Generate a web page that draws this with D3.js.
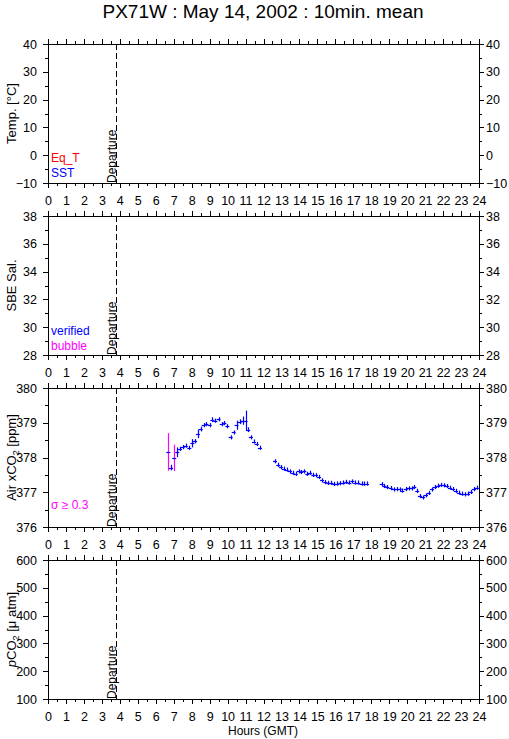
<!DOCTYPE html>
<html>
<head>
<meta charset="utf-8">
<title>PX71W : May 14, 2002 : 10min. mean</title>
<script src="https://d3js.org/d3.v7.min.js"></script>
<style>
  body { margin: 0; background: white; }
  svg text { font-family: "Liberation Sans", Arial, sans-serif; }
</style>
</head>
<body>
<svg id="chart"></svg>
<script>
var width = 509;
var height = 739;

// 10 minute means of air xCO2 (hours GMT, ppm, std dev)
var hours = [6.70, 6.85, 7.03, 7.20, 7.35, 7.50, 7.67, 7.87, 8.04, 8.19, 8.35, 8.50, 8.67, 8.82, 9.00, 9.15,
  9.32, 9.50, 9.67, 9.82, 9.99, 10.17, 10.34, 10.50, 10.67, 10.84, 11.00, 11.15, 11.30, 11.47, 11.62, 11.80,
  12.64, 12.82, 12.97, 13.14, 13.29, 13.47, 13.62, 13.79, 13.96, 14.10, 14.27, 14.44, 14.59, 14.77, 14.92,
  15.09, 15.26, 15.44, 15.61, 15.78, 15.94, 16.11, 16.28, 16.44, 16.61, 16.78, 16.95, 17.11, 17.28, 17.46,
  17.61, 17.76,
  18.58, 18.73, 18.89, 19.08, 19.25, 19.41, 19.58, 19.73, 19.92, 20.08, 20.25, 20.40, 20.56, 20.71, 20.88,
  21.05, 21.21, 21.38, 21.55, 21.72, 21.88, 22.05, 22.22, 22.38, 22.55, 22.72, 22.88, 23.05, 23.22, 23.39,
  23.55, 23.72, 23.88];
var xco2 = [378.16, 377.71, 377.99, 378.15, 378.25, 378.30, 378.34, 378.28, 378.41, 378.47, 378.68, 378.82,
  378.93, 378.96, 378.93, 379.09, 379.06, 379.10, 378.96, 378.99, 378.90, 378.58, 378.72, 378.93, 379.03,
  379.06, 379.06, 378.80, 378.58, 378.46, 378.39, 378.28,
  377.89, 377.79, 377.72, 377.68, 377.65, 377.60, 377.56, 377.53, 377.60, 377.58, 377.60, 377.53, 377.56,
  377.50, 377.49, 377.44, 377.34, 377.29, 377.27, 377.27, 377.24, 377.25, 377.26, 377.28, 377.30, 377.28,
  377.31, 377.28, 377.28, 377.25, 377.25, 377.25,
  377.23, 377.18, 377.15, 377.12, 377.08, 377.09, 377.08, 377.05, 377.09, 377.11, 377.11, 377.15, 377.04,
  376.89, 376.85, 376.91, 376.98, 377.08, 377.15, 377.19, 377.21, 377.20, 377.18, 377.13, 377.09, 377.04,
  376.99, 376.96, 376.94, 376.96, 377.01, 377.09, 377.13];
var xco2Sd = [0.54, 0.08, 0.38, 0.14, 0.06, 0.06, 0.06, 0.06, 0.12, 0.06, 0.12, 0.07, 0.06, 0.06, 0.06, 0.07,
  0.06, 0.06, 0.06, 0.06, 0.06, 0.06, 0.06, 0.13, 0.07, 0.12, 0.29, 0.07, 0.06, 0.06, 0.06, 0.06,
  0.06, 0.06, 0.06, 0.06, 0.06, 0.06, 0.06, 0.06, 0.06, 0.06, 0.06, 0.06, 0.06, 0.06, 0.06,
  0.06, 0.06, 0.06, 0.06, 0.06, 0.06, 0.06, 0.06, 0.06, 0.06, 0.06, 0.06, 0.06, 0.06, 0.06,
  0.06, 0.06,
  0.06, 0.06, 0.06, 0.06, 0.06, 0.06, 0.06, 0.06, 0.06, 0.06, 0.06, 0.06, 0.06, 0.06, 0.06,
  0.06, 0.06, 0.06, 0.06, 0.06, 0.06, 0.06, 0.06, 0.06, 0.06, 0.06, 0.06, 0.06, 0.06, 0.06,
  0.06, 0.06, 0.06];

var departureHour = 3.82;
var hourTicks = d3.range(0, 25, 1);
var halfHourTicks = d3.range(0.5, 24, 1);

// panel y ranges and ticks
var panelDomains = [[-10, 40], [28, 38], [376, 380], [100, 600]];
var panelMajor = [d3.range(-10, 41, 10), d3.range(28, 39, 2), d3.range(376, 381, 1), d3.range(100, 601, 100)];
var panelMinor = [d3.range(-5, 40, 10), d3.range(29, 38, 2), d3.range(376.5, 380, 1), d3.range(150, 600, 100)];
var panelTops = [44, 216, 388, 560];
var panelHeight = 139;

var left = 48, right = 479;

var svg = d3.select("#chart").attr("width", width).attr("height", height);

var x = d3.scaleLinear().domain([0, 24]).range([left, right]);

// title
svg.append("text")
  .attr("x", 263).attr("y", 18)
  .attr("text-anchor", "middle")
  .attr("font-size", 19)
  .text("PX71W : May 14, 2002 : 10min. mean");

var yScales = [];

panelTops.forEach(function(top, i) {
  var y = d3.scaleLinear().domain(panelDomains[i]).range([top + panelHeight, top]);
  yScales.push(y);
  var bottom = top + panelHeight;

  var g = svg.append("g");

  // x axes (bottom with labels, top without)
  g.append("g").attr("transform", "translate(0," + bottom + ")")
    .call(d3.axisBottom(x).tickValues(hourTicks).tickSize(5).tickPadding(8).tickFormat(d3.format("d")));
  g.append("g").attr("transform", "translate(0," + bottom + ")")
    .call(d3.axisBottom(x).tickValues(halfHourTicks).tickSize(3).tickFormat(""));
  g.append("g").attr("transform", "translate(0," + top + ")")
    .call(d3.axisTop(x).tickValues(hourTicks).tickSize(5).tickFormat(""));
  g.append("g").attr("transform", "translate(0," + top + ")")
    .call(d3.axisTop(x).tickValues(halfHourTicks).tickSize(3).tickFormat(""));

  // y axes on both sides
  g.append("g").attr("transform", "translate(" + left + ",0)")
    .call(d3.axisLeft(y).tickValues(panelMajor[i]).tickSize(5).tickPadding(6).tickFormat(d3.format("d")));
  g.append("g").attr("transform", "translate(" + left + ",0)")
    .call(d3.axisLeft(y).tickValues(panelMinor[i]).tickSize(3).tickFormat(""));
  g.append("g").attr("transform", "translate(" + right + ",0)")
    .call(d3.axisRight(y).tickValues(panelMajor[i]).tickSize(5).tickPadding(2).tickFormat(d3.format("d")));
  g.append("g").attr("transform", "translate(" + right + ",0)")
    .call(d3.axisRight(y).tickValues(panelMinor[i]).tickSize(3).tickFormat(""));

  g.selectAll(".domain").remove();
  g.selectAll(".tick text").attr("font-size", 12.5).attr("font-family", "Liberation Sans, Arial, sans-serif");
  g.selectAll(".tick line").attr("shape-rendering", "crispEdges");

  // frame
  g.append("rect")
    .attr("x", left).attr("y", top)
    .attr("width", right - left).attr("height", panelHeight)
    .attr("fill", "none").attr("stroke", "black").attr("shape-rendering", "crispEdges");

  // departure marker
  g.append("line")
    .attr("x1", x(departureHour)).attr("x2", x(departureHour))
    .attr("y1", top).attr("y2", bottom)
    .attr("stroke", "black").attr("stroke-dasharray", "6,3")
    .attr("shape-rendering", "crispEdges");
  g.append("text")
    .attr("transform", "translate(" + (x(departureHour) - 0.5) + "," + bottom + ") rotate(-90)")
    .attr("font-size", 12)
    .text("Departure");
});

// y axis titles
var yTitles = [
  { y: panelTops[0] + panelHeight / 2, parts: [["Temp. [°C]"]] },
  { y: panelTops[1] + panelHeight / 2, parts: [["SBE Sal."]] },
  { y: panelTops[2] + panelHeight / 2, parts: [["Air xCO"], ["2", "sub"], [" [ppm]"]] },
  { y: panelTops[3] + panelHeight / 2, parts: [["p", "it"], ["CO"], ["2", "sub"], [" [μ atm]"]] }
];
yTitles.forEach(function(t) {
  var txt = svg.append("text")
    .attr("transform", "translate(16," + t.y + ") rotate(-90)")
    .attr("text-anchor", "middle")
    .attr("font-size", 13);
  var afterSub = false;
  t.parts.forEach(function(p) {
    var s = txt.append("tspan").text(p[0]);
    if (p[1] === "sub") { s.attr("font-size", 9).attr("dy", 3); afterSub = true; return; }
    if (p[1] === "it") s.attr("font-style", "italic");
    if (afterSub) { s.attr("dy", -3); afterSub = false; }
  });
});

// legends
svg.append("text").attr("x", 51).attr("y", 162).attr("font-size", 12).attr("fill", "#ff0000").text("Eq_T");
svg.append("text").attr("x", 51).attr("y", 177).attr("font-size", 12).attr("fill", "#0000ff").text("SST");
svg.append("text").attr("x", 51).attr("y", 335).attr("font-size", 12).attr("fill", "#0000ff").text("verified");
svg.append("text").attr("x", 51).attr("y", 350).attr("font-size", 12).attr("fill", "#ff00ff").text("bubble");
svg.append("text").attr("x", 51).attr("y", 509).attr("font-size", 12).attr("fill", "#ff00ff").text("σ ≥ 0.3");

// x axis title
svg.append("text")
  .attr("x", 263).attr("y", 735)
  .attr("text-anchor", "middle")
  .attr("font-size", 12)
  .text("Hours (GMT)");

// xCO2 crosses: vertical bar = std dev, horizontal = 10 min mean
var yC = yScales[2];
var pts = hours.map(function(h, i) { return { h: h, v: xco2[i], sd: xco2Sd[i] }; });

var marks = svg.append("g");
marks.selectAll(".sd").data(pts).enter().append("line")
  .attr("x1", function(d) { return Math.round(x(d.h)) + 0.5; })
  .attr("x2", function(d) { return Math.round(x(d.h)) + 0.5; })
  .attr("y1", function(d) { return yC(d.v - d.sd); })
  .attr("y2", function(d) { return yC(d.v + d.sd); })
  .attr("stroke", function(d) { return d.sd >= 0.3 ? "#ff00ff" : "#0000ff"; })
  .attr("stroke-width", 1.2);
marks.selectAll(".mean").data(pts).enter().append("line")
  .attr("x1", function(d) { return x(d.h) - 2; })
  .attr("x2", function(d) { return x(d.h) + 2; })
  .attr("y1", function(d) { return Math.round(yC(d.v)) + 0.5; })
  .attr("y2", function(d) { return Math.round(yC(d.v)) + 0.5; })
  .attr("stroke", "#0000ff")
  .attr("stroke-width", 1.2);
</script>
</body>
</html>
